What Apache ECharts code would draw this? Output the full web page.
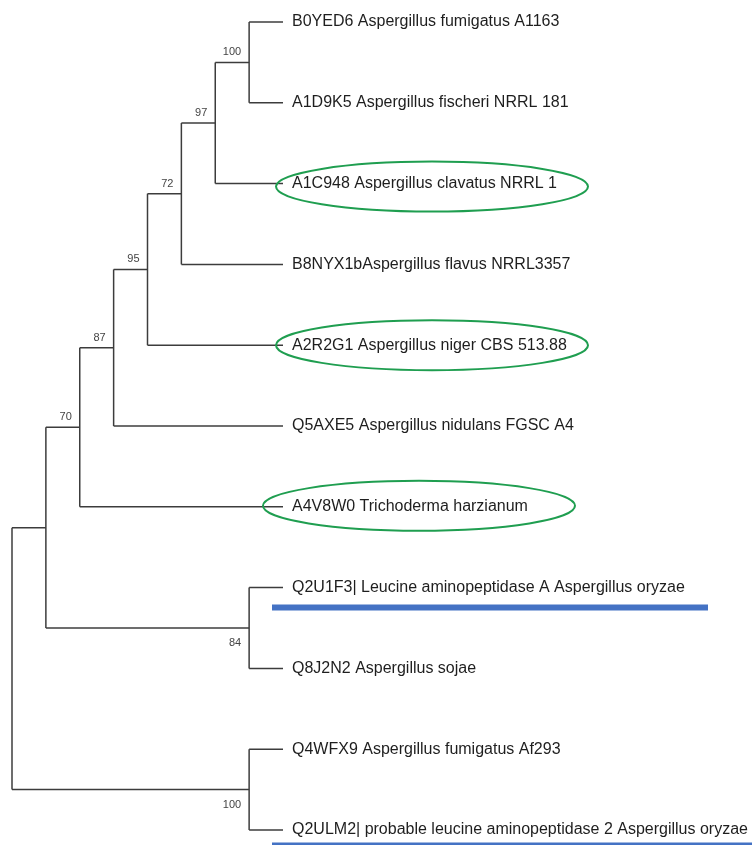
<!DOCTYPE html>
<html>
<head>
<meta charset="utf-8">
<script src="https://cdn.jsdelivr.net/npm/echarts@6/dist/echarts.min.js"></script>
<style>
  html, body { margin: 0; padding: 0; background: #ffffff; }
  #chart { width: 752px; height: 845px; }
</style>
</head>
<body>
<div id="chart"></div>
<script>
// Leaf taxa, listed top to bottom
const taxa = [
  'B0YED6 Aspergillus fumigatus A1163',
  'A1D9K5 Aspergillus fischeri NRRL 181',
  'A1C948 Aspergillus clavatus NRRL 1',
  'B8NYX1bAspergillus flavus NRRL3357',
  'A2R2G1 Aspergillus niger CBS 513.88',
  'Q5AXE5 Aspergillus nidulans FGSC A4',
  'A4V8W0 Trichoderma harzianum',
  'Q2U1F3| Leucine aminopeptidase A Aspergillus oryzae',
  'Q8J2N2 Aspergillus sojae',
  'Q4WFX9 Aspergillus fumigatus Af293',
  'Q2ULM2| probable leucine aminopeptidase 2 Aspergillus oryzae'
];

// Tree topology as nested pairs of leaf indices
const topology = [[[[[[[[0, 1], 2], 3], 4], 5], 6], [7, 8]], [9, 10]];

// Bootstrap support of each internal node, in post-order (null = not shown)
const bootstrap = [100, 97, 72, 95, 87, 70, 84, null, 100, null];

// Leaves that are circled and leaves that are underlined
const circled = [2, 4, 6];
const underlined = [7, 10];

// ---- layout: cladogram with aligned tips ----
let postIndex = 0;
function build(node) {
  if (typeof node === 'number') {
    return { leaf: true, index: node, y: node, h: 0 };
  }
  const kids = node.map(build);
  return {
    leaf: false,
    children: kids,
    y: kids.reduce((s, k) => s + k.y, 0) / kids.length,
    h: 1 + Math.max.apply(null, kids.map(k => k.h)),
    support: bootstrap[postIndex++]
  };
}
const root = build(topology);
const rootH = root.h;

const branches = [];   // [x, y, parentX, minChildY, maxChildY]
const supports = [];   // [x, y, value, side]
const tips = [];       // [x, y, leafIndex]
function place(node, parentX, side) {
  node.x = rootH - node.h;
  if (node.leaf) {
    branches.push([node.x, node.y, parentX, node.y, node.y]);
    tips.push([node.x, node.y, node.index]);
    return;
  }
  const ys = node.children.map(c => c.y);
  branches.push([node.x, node.y, parentX == null ? node.x : parentX, Math.min.apply(null, ys), Math.max.apply(null, ys)]);
  if (node.support != null) supports.push([node.x, node.y, node.support, side]);
  node.children.forEach((c, i) => place(c, node.x, i === 0 ? 1 : -1));
}
place(root, null, 0);

const highlights = tips.filter(t => circled.indexOf(t[2]) >= 0);
const lines = tips.filter(t => underlined.indexOf(t[2]) >= 0);

// Hand-drawn ellipse / underline styling per leaf
const ellipseShift = { 2: [149, 3], 4: [149, 0], 6: [136, -1] };
const underlineStyle = { 7: { dy: 20, w: 6, end: 425 }, 10: { dy: 14, w: 3, end: 480 } };

const lineColor = '#3c3c3c';
const chart = echarts.init(document.getElementById('chart'), null, { renderer: 'canvas' });

chart.setOption({
  animation: false,
  backgroundColor: '#ffffff',
  grid: { left: 12, right: 469, top: 22, bottom: 15 },
  xAxis: { type: 'value', min: 0, max: rootH, show: false },
  yAxis: { type: 'value', min: 0, max: taxa.length - 1, inverse: true, show: false },
  series: [
    {
      // tree branches
      type: 'custom',
      data: branches,
      renderItem: function (params, api) {
        const p = api.coord([api.value(0), api.value(1)]);
        const px = api.coord([api.value(2), api.value(1)]);
        const top = api.coord([api.value(0), api.value(3)]);
        const bot = api.coord([api.value(0), api.value(4)]);
        const style = { stroke: lineColor, lineWidth: 1.5 };
        const children = [];
        if (px[0] !== p[0]) {
          children.push({ type: 'line', shape: { x1: px[0], y1: p[1], x2: p[0], y2: p[1] }, style: style });
        }
        if (bot[1] !== top[1]) {
          children.push({ type: 'line', shape: { x1: p[0], y1: top[1], x2: p[0], y2: bot[1] }, style: style });
        }
        return { type: 'group', children: children };
      }
    },
    {
      // circled taxa
      type: 'custom',
      data: highlights,
      z: 3,
      renderItem: function (params, api) {
        const p = api.coord([api.value(0), api.value(1)]);
        const s = ellipseShift[api.value(2)];
        return {
          type: 'ellipse',
          shape: { cx: p[0] + s[0], cy: p[1] + s[1], rx: 156, ry: 25 },
          style: { fill: 'none', stroke: '#1f9e50', lineWidth: 2 }
        };
      }
    },
    {
      // underlined taxa
      type: 'custom',
      data: lines,
      z: 3,
      renderItem: function (params, api) {
        const p = api.coord([api.value(0), api.value(1)]);
        const s = underlineStyle[api.value(2)];
        return {
          type: 'rect',
          shape: { x: p[0] - 11, y: p[1] + s.dy - s.w / 2, width: s.end + 11, height: s.w },
          style: { fill: '#4472c4' }
        };
      }
    },
    {
      // tip labels
      type: 'custom',
      data: tips,
      z: 4,
      renderItem: function (params, api) {
        const p = api.coord([api.value(0), api.value(1)]);
        return {
          type: 'text',
          x: p[0] + 9,
          y: p[1],
          style: {
            text: taxa[api.value(2)],
            fill: '#1e1e1e',
            font: '16px "Liberation Sans", Arial, sans-serif',
            textAlign: 'left',
            textVerticalAlign: 'middle'
          }
        };
      }
    },
    {
      // bootstrap values
      type: 'custom',
      data: supports,
      z: 4,
      renderItem: function (params, api) {
        const p = api.coord([api.value(0), api.value(1)]);
        const above = api.value(3) >= 0;
        return {
          type: 'text',
          x: p[0] - 8,
          y: above ? p[1] - 10 : p[1] + 15,
          style: {
            text: String(api.value(2)),
            fill: '#444444',
            font: '11px "Liberation Sans", Arial, sans-serif',
            textAlign: 'right',
            textVerticalAlign: 'middle'
          }
        };
      }
    }
  ]
});
</script>
</body>
</html>
